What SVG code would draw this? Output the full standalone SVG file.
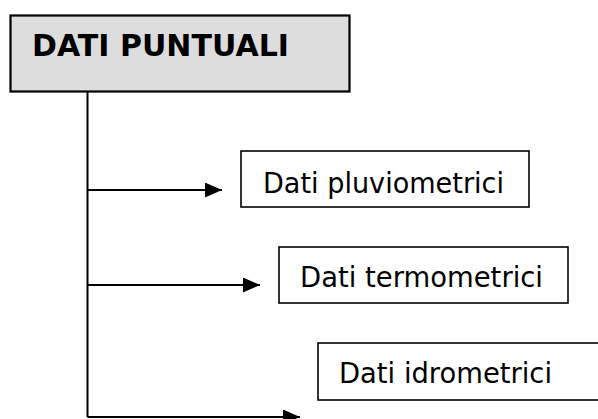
<svg xmlns="http://www.w3.org/2000/svg" width="598" height="419" viewBox="0 0 598 419">
  <style>
    .box { fill: #ffffff; stroke: #000000; stroke-width: 1.6; }
    .title { fill: #dddddd; stroke: #000000; stroke-width: 2.2; }
    .grid { stroke: #cfcfcf; stroke-width: 1; fill: none; }
    .label { font-family: "DejaVu Sans", Verdana, sans-serif; font-size: 28.5px; fill: #000000; }
    .head { font-family: "DejaVu Sans", Verdana, sans-serif; font-size: 30.5px; font-weight: bold; fill: #000000; }
    .wire { fill: none; stroke: #000000; stroke-width: 2; }
  </style>
  <defs>
    <marker id="arrow" markerUnits="userSpaceOnUse" markerWidth="17" markerHeight="15" refX="17" refY="7.5" orient="auto">
      <path d="M0,0 L17,7.5 L0,15 z" fill="#000000"/>
    </marker>
    <!-- fine grain for the heading panel -->
    <filter id="grain" x="0" y="0" width="100%" height="100%">
      <feTurbulence type="fractalNoise" baseFrequency="0.9" numOctaves="1" seed="3" result="n"/>
      <feColorMatrix in="n" type="matrix" values="0 0 0 0 0.55  0 0 0 0 0.55  0 0 0 0 0.55  0 0 0 0.35 0" result="g"/>
      <feComposite in="g" in2="SourceGraphic" operator="in" result="gm"/>
      <feMerge><feMergeNode in="SourceGraphic"/><feMergeNode in="gm"/></feMerge>
    </filter>
  </defs>
  <rect width="598" height="419" fill="#ffffff"/>

  <g id="dati-puntuali">
    <rect x="11" y="16" width="338" height="75" fill="#e2e2e2" filter="url(#grain)"/>
    <path class="grid" d="M68,17 V90 M127,17 V90 M185,17 V90 M243,17 V90 M302,17 V90 M12,72 H348"/>
    <rect class="title" x="10.5" y="15.5" width="339" height="76" fill="none"/>
    <text class="head" x="32" y="56" textLength="257" lengthAdjust="spacingAndGlyphs">DATI PUNTUALI</text>
  </g>

  <g id="connectors">
    <path class="wire" d="M87.5,92 V417"/>
    <path class="wire" d="M87.5,190 H222" marker-end="url(#arrow)"/>
    <path class="wire" d="M87.5,285 H260" marker-end="url(#arrow)"/>
    <path class="wire" d="M87.5,417 H300" marker-end="url(#arrow)"/>
  </g>

  <g id="dati-pluviometrici">
    <rect class="box" x="241" y="151" width="288" height="56"/>
    <text class="label" x="263" y="193" textLength="241" lengthAdjust="spacingAndGlyphs">Dati pluviometrici</text>
  </g>

  <g id="dati-termometrici">
    <rect class="box" x="279" y="247" width="289" height="56"/>
    <text class="label" x="300" y="287" textLength="243" lengthAdjust="spacingAndGlyphs">Dati termometrici</text>
  </g>

  <g id="dati-idrometrici">
    <rect class="box" x="318" y="343" width="290" height="57"/>
    <text class="label" x="339" y="383" textLength="213" lengthAdjust="spacingAndGlyphs">Dati idrometrici</text>
  </g>
</svg>
